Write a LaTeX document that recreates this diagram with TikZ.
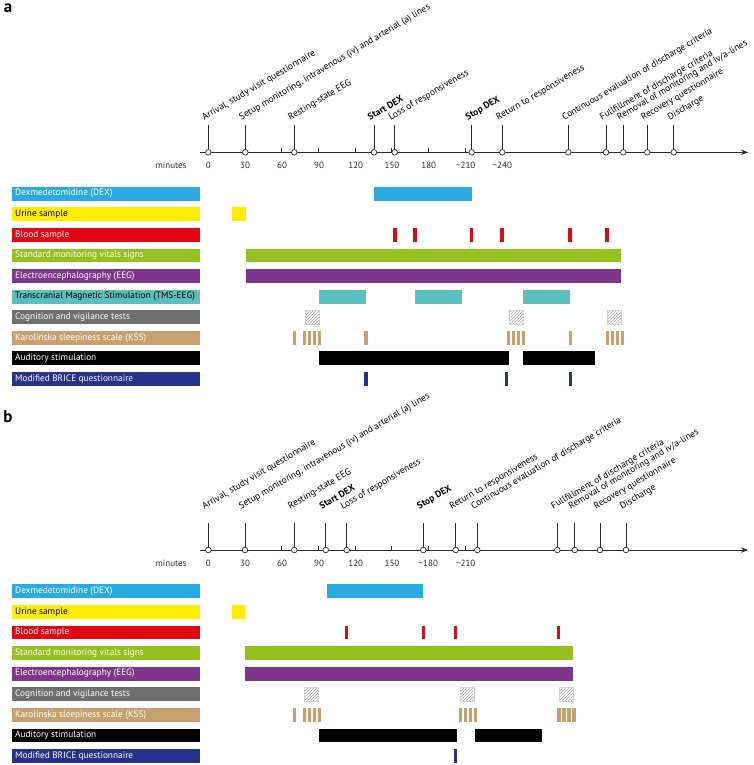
\documentclass[tikz,border=0pt]{standalone}
\usepackage{fontspec}
\setmainfont{PT Sans}
\usetikzlibrary{arrows.meta,patterns}
\definecolor{cdex}{HTML}{29ABE2}
\definecolor{curine}{HTML}{FFED00}
\definecolor{cblood}{HTML}{E30613}
\definecolor{cvital}{HTML}{95C11F}
\definecolor{ceeg}{HTML}{7F368A}
\definecolor{ctms}{HTML}{5BBFBF}
\definecolor{ccog}{HTML}{706F6F}
\definecolor{ckss}{HTML}{C8A06E}
\definecolor{caud}{HTML}{000000}
\definecolor{cbrice}{HTML}{25318A}
\definecolor{cax}{HTML}{2B2B2B}
\newcommand\tlbar[4]{\fill[#4] (#2,{#1-6.9}) rectangle (#3,{#1+6.9});}
\newcommand\tltick[3]{\fill[#3] ({#1-1.6},{#2-6.9}) rectangle ({#1+1.6},{#2+6.9});}
\newcommand\kssfour[2]{\foreach \k in {0,5,10,15}{\fill[ckss] ({#1+\k},{#2-6.9}) rectangle ({#1+\k+3.2},{#2+6.9});}}
\newcommand\hatchbox[3]{\fill[pattern=north east lines, pattern color=gray!70] (#1,{#3-6.9}) rectangle (#2,{#3+6.9});
  \draw[gray!35, line width=0.5pt] (#1,{#3-6.9}) rectangle (#2,{#3+6.9});}
\newcommand\rl[1]{\makebox[182pt][l]{#1}}
\tikzset{
  rowlab/.style={anchor=west, inner xsep=3pt, inner ysep=0pt, minimum height=13.8pt, font=\fontsize{9.3}{10}\selectfont, text=white},
  evdot/.style={circle, draw=cax, fill=white, inner sep=0pt, minimum size=5.6pt, line width=0.7pt},
  evline/.style={draw=cax, line width=0.8pt},
  evlab/.style={anchor=base west, rotate=30.5, inner sep=0pt, font=\fontsize{9.4}{10}\selectfont},
  ticklab/.style={anchor=center, font=\fontsize{9}{10}\selectfont, text=cax},
  axisline/.style={draw=cax, line width=0.8pt, -{Stealth[length=7pt,width=5.5pt]}},
  panel/.style={anchor=center, font=\fontsize{17}{18}\selectfont\bfseries}
}
\begin{document}
\begin{tikzpicture}[x=1pt,y=-1pt]
\useasboundingbox (0,0) rectangle (753,765);
% ================= panel a =================
\node[panel] (pa) at (8,8) {a};
\coordinate (axa0) at (200,152.3);
\coordinate (axa1) at (748,152.3);
\draw[axisline] (axa0) -- (axa1);
\foreach \m in {60,90,120,150,180,210}{
  \draw[cax, line width=0.7pt] ({208.3+\m*1.2222},152.3) -- ({208.3+\m*1.2222},148.2);
}
\node[ticklab, anchor=east] (mina) at (190,165.7) {minutes};
\foreach \x/\t [count=\i] in {208.3/0,245/30,282/60,319/90,355.7/120,392/150,428.7/180,465.7/{\textasciitilde210},502.3/{\textasciitilde240}}{
  \node[ticklab] (tla\i) at (\x,165.7) {\t};
}
\foreach \x/\t [count=\i] in {
  208.3/{Arrival, study visit questionnaire},
  245.3/{Setup monitoring, intravenous (iv) and arterial (a) lines},
  294.3/{Resting-state EEG},
  374/{\textbf{Start DEX}},
  394.7/{Loss of responsiveness},
  471.7/{\textbf{Stop DEX}},
  502.3/{Return to responsiveness},
  568.3/{Continuous evaluation of discharge criteria},
  606/{Fullfillment of discharge criteria},
  623.3/{Removal of monitoring and iv/a-lines},
  647.3/{Recovery questionnaire},
  673.7/{Discharge}}{
  \coordinate (eat\i) at (\x,125.3);
  \node[evdot] (ea\i) at (\x,152.3) {};
  \draw[evline] (ea\i) -- (eat\i);
  \node[evlab] (eal\i) at ({\x-4},120.5) {\t};
}
% row labels a
\node[rowlab, fill=cdex] (ra0) at (12,193.7) {\rl{Dexmedetomidine (DEX)}};
\node[rowlab, fill=curine, text=black] (ra1) at (12,214.3) {\rl{Urine sample}};
\node[rowlab, fill=cblood] (ra2) at (12,234.9) {\rl{Blood sample}};
\node[rowlab, fill=cvital] (ra3) at (12,255.4) {\rl{Standard monitoring vitals signs}};
\node[rowlab, fill=ceeg] (ra4) at (12,276.0) {\rl{Electroencephalography (EEG)}};
\node[rowlab, fill=ctms, text=black] (ra5) at (12,296.6) {\rl{Transcranial Magnetic Stimulation (TMS-EEG)}};
\node[rowlab, fill=ccog] (ra6) at (12,317.2) {\rl{Cognition and vigilance tests}};
\node[rowlab, fill=ckss] (ra7) at (12,337.8) {\rl{Karolinska sleepiness scale (KSS)}};
\node[rowlab, fill=caud] (ra8) at (12,358.3) {\rl{Auditory stimulation}};
\node[rowlab, fill=cbrice] (ra9) at (12,378.9) {\rl{Modified BRICE questionnaire}};
% bars a
\tlbar{193.7}{374}{471.7}{cdex}
\tlbar{214.3}{232.3}{245.7}{curine}
\foreach \x in {395,415,471.7,502,570,607}{\tltick{\x}{234.9}{cblood}}
\tlbar{255.4}{245.7}{621}{cvital}
\tlbar{276.0}{245.7}{621}{ceeg}
\tlbar{296.6}{319}{366}{ctms}
\tlbar{296.6}{415}{462.3}{ctms}
\tlbar{296.6}{523}{570.3}{ctms}
\hatchbox{305}{319}{317.2}
\hatchbox{509}{523}{317.2}
\hatchbox{607.3}{621.7}{317.2}
\tltick{294.3}{337.8}{ckss}
\kssfour{302.7}{337.8}
\tltick{366}{337.8}{ckss}
\kssfour{507}{337.8}
\tltick{570.3}{337.8}{ckss}
\kssfour{605.7}{337.8}
\tlbar{358.3}{319}{509}{caud}
\tlbar{358.3}{523}{594.7}{caud}
\foreach \x in {366,506.7,570.3}{\tltick{\x}{378.9}{cbrice}}
% ================= panel b =================
\node[panel] (pb) at (8,416.7) {b};
\coordinate (axb0) at (200,550);
\coordinate (axb1) at (748,550);
\draw[axisline] (axb0) -- (axb1);
\foreach \m in {60,90,120,150,180,210}{
  \draw[cax, line width=0.7pt] ({208.3+\m*1.2222},550) -- ({208.3+\m*1.2222},545.9);
}
\node[ticklab, anchor=east] (minb) at (190,563.3) {minutes};
\foreach \x/\t [count=\i] in {208.3/0,245/30,282/60,319/90,355.7/120,392/150,428.3/{\textasciitilde180},465.7/{\textasciitilde210}}{
  \node[ticklab] (tlb\i) at (\x,563.3) {\t};
}
\foreach \x/\t [count=\i] in {
  208.3/{Arrival, study visit questionnaire},
  245/{Setup monitoring, intravenous (iv) and arterial (a) lines},
  294.3/{Resting-state EEG},
  325.7/{\textbf{Start DEX}},
  346.7/{Loss of responsiveness},
  423.3/{\textbf{Stop DEX}},
  455.7/{Return to responsiveness},
  477.3/{Continuous evaluation of discharge criteria},
  557.3/{Fullfillment of discharge criteria},
  574.7/{Removal of monitoring and iv/a-lines},
  600/{Recovery questionnaire},
  626/{Discharge}}{
  \coordinate (ebt\i) at (\x,523.3);
  \node[evdot] (eb\i) at (\x,550) {};
  \draw[evline] (eb\i) -- (ebt\i);
  \node[evlab] (ebl\i) at ({\x-4},509.5) {\t};
}
% row labels b
\node[rowlab, fill=cdex] (rb0) at (12,591.2) {\rl{Dexmedetomidine (DEX)}};
\node[rowlab, fill=curine, text=black] (rb1) at (12,611.8) {\rl{Urine sample}};
\node[rowlab, fill=cblood] (rb2) at (12,632.4) {\rl{Blood sample}};
\node[rowlab, fill=cvital] (rb3) at (12,653.0) {\rl{Standard monitoring vitals signs}};
\node[rowlab, fill=ceeg] (rb4) at (12,673.6) {\rl{Electroencephalography (EEG)}};
\node[rowlab, fill=ccog] (rb5) at (12,694.2) {\rl{Cognition and vigilance tests}};
\node[rowlab, fill=ckss] (rb6) at (12,714.8) {\rl{Karolinska sleepiness scale (KSS)}};
\node[rowlab, fill=caud] (rb7) at (12,735.4) {\rl{Auditory stimulation}};
\node[rowlab, fill=cbrice] (rb8) at (12,756.0) {\rl{Modified BRICE questionnaire}};
% bars b
\tlbar{591.2}{326.7}{423.3}{cdex}
\tlbar{611.8}{232.3}{245}{curine}
\foreach \x in {346.7,423.3,455.7,558.3}{\tltick{\x}{632.4}{cblood}}
\tlbar{653.0}{245}{573.3}{cvital}
\tlbar{673.6}{245}{573.3}{ceeg}
\hatchbox{304.3}{318.7}{694.2}
\hatchbox{460.7}{474.7}{694.2}
\hatchbox{559.3}{573.7}{694.2}
\tltick{294.3}{714.8}{ckss}
\kssfour{302.7}{714.8}
\kssfour{458.7}{714.8}
\kssfour{557.3}{714.8}
\tlbar{735.4}{319.3}{457}{caud}
\tlbar{735.4}{474.7}{542.3}{caud}
\tltick{455.7}{756.0}{cbrice}
\end{tikzpicture}
\end{document}
